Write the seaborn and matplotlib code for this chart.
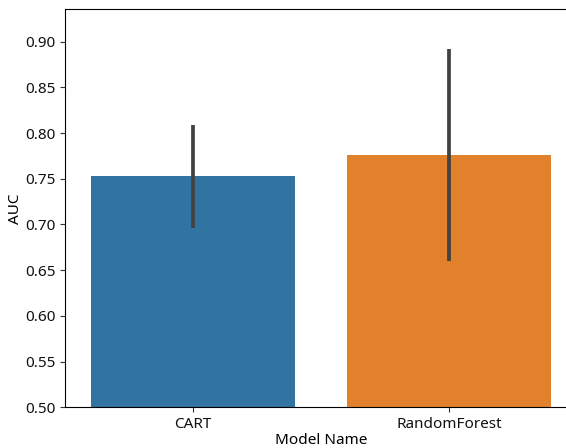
import matplotlib
matplotlib.use("Agg")
import matplotlib.pyplot as plt
import seaborn as sns
import pandas as pd

models = ["CART", "RandomForest"]
auc_mean = [0.7534, 0.7764]
ci_low = [0.6958, 0.6601]
ci_high = [0.8089, 0.8920]

plt.rcParams['font.family'] = ['Noto Sans', 'DejaVu Sans']

df = pd.DataFrame({"Model Name": models, "AUC": auc_mean})

fig = plt.figure(figsize=(5.66, 4.48), dpi=100)
ax = fig.add_axes([65/566, 1 - 407.3/448, (577 - 65)/566, (407.3 - 9.3)/448])
sns.barplot(data=df, x="Model Name", y="AUC", hue="Model Name", errorbar=None,
            legend=False, ax=ax)
for i, m in enumerate(models):
    ax.vlines(i, ci_low[i], ci_high[i], color="#424242", linewidth=2.7)
ax.set_ylim(0.5, 0.9354)
ax.set_xlim(-0.5, 1.5)
ax.set_yticks([0.50, 0.55, 0.60, 0.65, 0.70, 0.75, 0.80, 0.85, 0.90])
ax.set_yticklabels([f"{v:.2f}" for v in ax.get_yticks()])
ax.tick_params(labelsize=11, colors="#333333", labelcolor="#111111")
ax.set_xlabel("Model Name", fontsize=11, labelpad=1)
ax.set_ylabel("AUC", fontsize=11, labelpad=1)
fig.savefig("out.png", dpi=100)
